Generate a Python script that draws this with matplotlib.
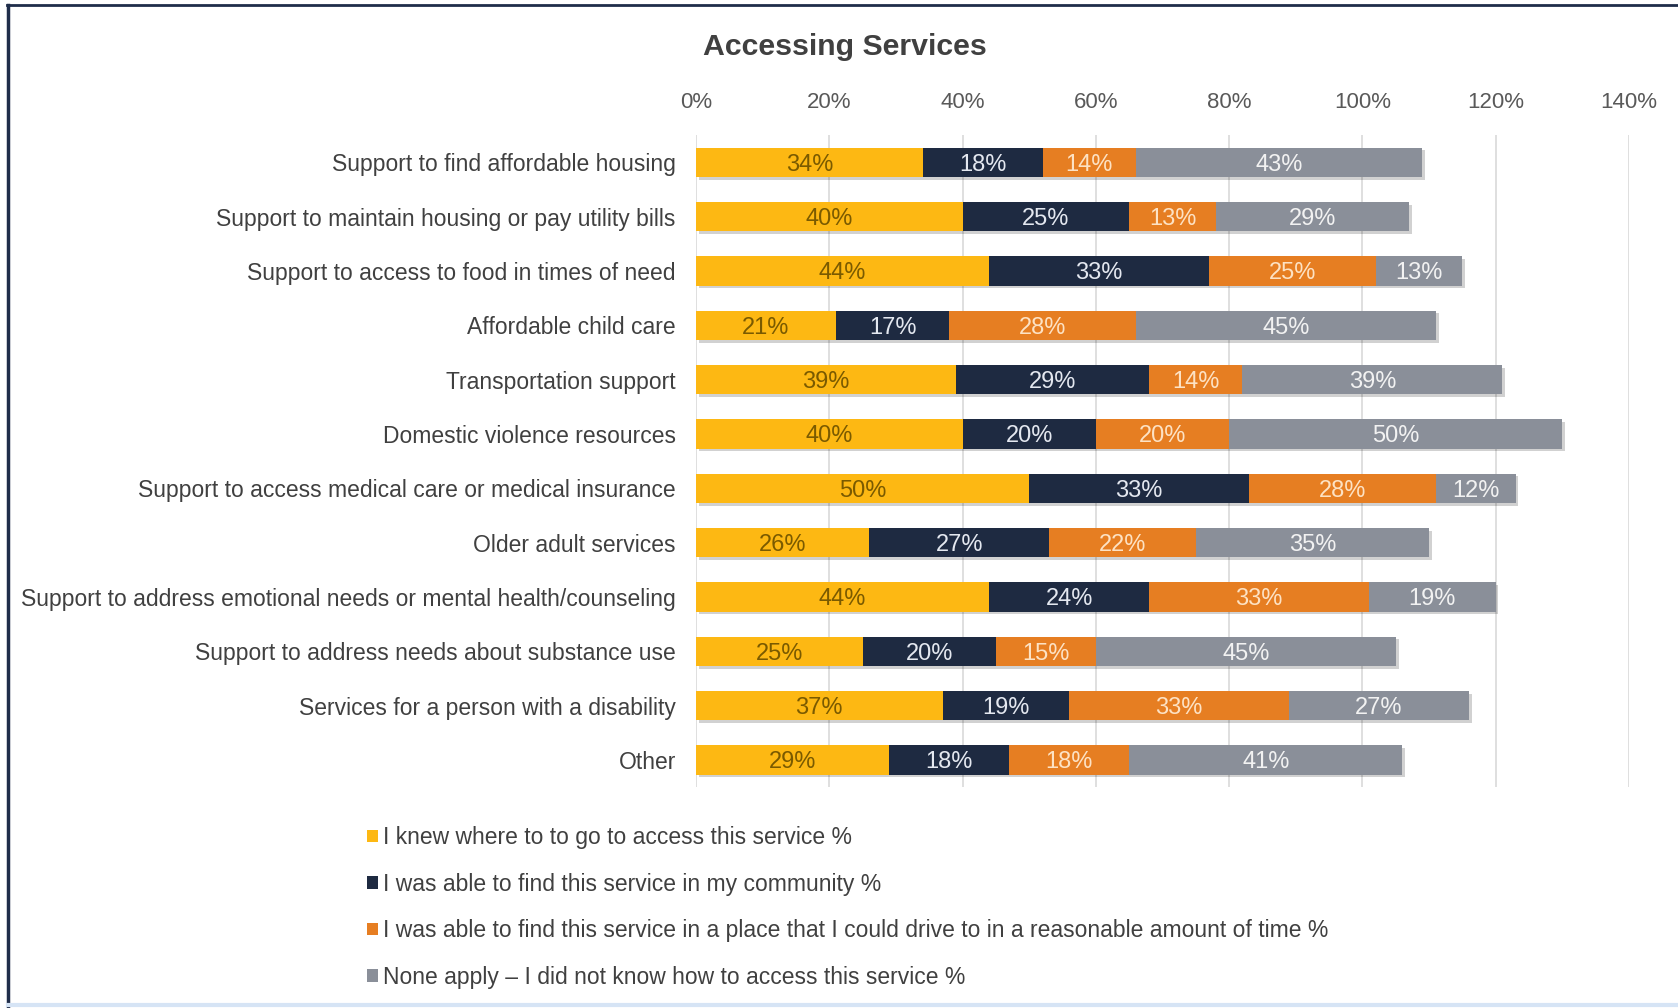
import matplotlib
matplotlib.use("Agg")
import matplotlib.pyplot as plt
import matplotlib.patheffects as pe
from matplotlib.patches import Patch
from matplotlib.lines import Line2D
import numpy as np

categories = [
    "Support to find affordable housing",
    "Support to maintain housing or pay utility bills",
    "Support to access to food in times of need",
    "Affordable child care",
    "Transportation support",
    "Domestic violence resources",
    "Support to access medical care or medical insurance",
    "Older adult services",
    "Support to address emotional needs or mental health/counseling",
    "Support to address needs about substance use",
    "Services for a person with a disability",
    "Other",
]

knew_where = [34, 40, 44, 21, 39, 40, 50, 26, 44, 25, 37, 29]
in_community = [18, 25, 33, 17, 29, 20, 33, 27, 24, 20, 19, 18]
could_drive = [14, 13, 25, 28, 14, 20, 28, 22, 33, 15, 33, 18]
none_apply = [43, 29, 13, 45, 39, 50, 12, 35, 19, 45, 27, 41]

series_names = [
    "I knew where to to go to access this service %",
    "I was able to find this service in my community %",
    "I was able to find this service in a place that I could drive to in a reasonable amount of time %",
    "None apply \u2013 I did not know how to access this service %",
]

x_ticks = [0, 20, 40, 60, 80, 100, 120, 140]

colors = ["#FDB813", "#1E2A41", "#E67E22", "#8A8F99"]
text_colors = ["#7A5A00", "#E4E8F0", "#FDE2C4", "#F2F2F2"]

plt.rcParams["font.family"] = ["Liberation Sans", "DejaVu Sans"]

fig = plt.figure(figsize=(16.78, 10.08), dpi=100)
fig.patch.set_facecolor("white")
ax = fig.add_axes([0.4148, 0.2192, 0.5560, 0.6468])

y = np.arange(len(categories))
data = [knew_where, in_community, could_drive, none_apply]
left = np.zeros(len(categories))
shadow = [pe.SimplePatchShadow(offset=(2, -2), shadow_rgbFace="#000000", alpha=0.18), pe.Normal()]
for vals, col, tcol in zip(data, colors, text_colors):
    vals = np.array(vals)
    bars = ax.barh(y, vals, left=left, height=0.54, color=col,
                   zorder=3, path_effects=shadow)
    for b, v in zip(bars, vals):
        ax.text(b.get_x() + b.get_width() / 2, b.get_y() + b.get_height() / 2,
                f"{v}%", ha="center", va="center_baseline", color=tcol,
                fontsize=17, zorder=4)
    left += vals

ax.set_xlim(0, 140)
ax.set_ylim(len(categories) - 0.5, -0.5)
ax.set_xticks(x_ticks)
ax.set_xticklabels([f"{t}%" for t in x_ticks])
ax.xaxis.tick_top()
ax.tick_params(axis="x", length=0, pad=16, labelsize=16, labelcolor="#595959")
ax.set_yticks(y)
ax.set_yticklabels(categories)
ax.tick_params(axis="y", length=0, pad=14.6, labelsize=16.5, labelcolor="#404040")
ax.grid(axis="x", color="#D9D9D9", linewidth=1.2, zorder=0)
for s in ax.spines.values():
    s.set_visible(False)

fig.text(0.5036, 0.953, "Accessing Services", ha="center", va="center",
         fontsize=21.8, fontweight="bold", color="#404040")

handles = [Patch(facecolor=c) for c in colors]
ax.legend(handles, series_names, loc="upper left", bbox_to_anchor=(0.212, 0.192),
          bbox_transform=fig.transFigure, frameon=False, handlelength=0.45,
          handleheight=0.45, handletextpad=0.25, labelspacing=1.03, fontsize=16.5,
          labelcolor="#404040", borderpad=0)

# frame around the figure
fig.add_artist(Line2D([0.004, 1.0], [0.9955, 0.9955], transform=fig.transFigure,
                      color="#1F2D4A", linewidth=2))
fig.add_artist(Line2D([0.0045, 0.0045], [0.0, 0.9955], transform=fig.transFigure,
                      color="#1F2D4A", linewidth=2.5))
fig.add_artist(Line2D([0.0045, 1.0], [0.003, 0.003], transform=fig.transFigure,
                      color="#D6E4F5", linewidth=3))

fig.savefig("out.png", dpi=100, facecolor="white")
